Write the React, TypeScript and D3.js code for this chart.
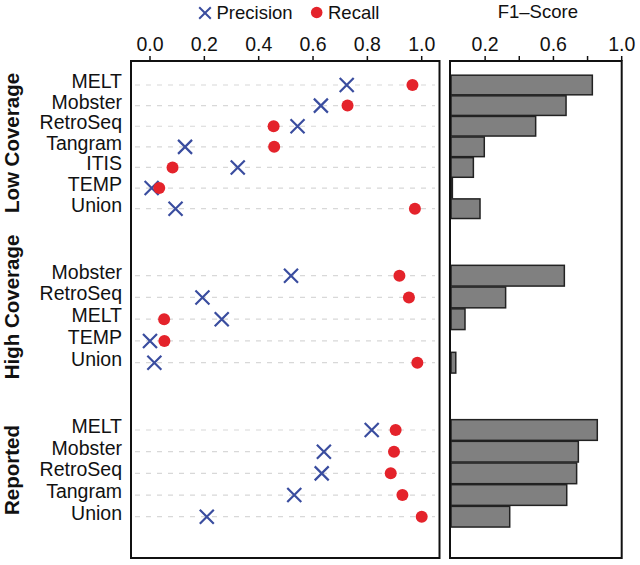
import * as d3 from 'd3';

const groups = ['Low Coverage', 'High Coverage', 'Reported'];

const lowTools = ['MELT', 'Mobster', 'RetroSeq', 'Tangram', 'ITIS', 'TEMP', 'Union'];
const lowPrecision = [0.724, 0.629, 0.543, 0.129, 0.323, 0.006, 0.094];
const lowRecall = [0.966, 0.727, 0.455, 0.457, 0.083, 0.034, 0.975];
const lowF1 = [0.828, 0.674, 0.496, 0.195, 0.131, 0.008, 0.17];

const highTools = ['Mobster', 'RetroSeq', 'MELT', 'TEMP', 'Union'];
const highPrecision = [0.519, 0.193, 0.264, 0.0, 0.016];
const highRecall = [0.918, 0.953, 0.052, 0.053, 0.984];
const highF1 = [0.664, 0.32, 0.082, 0, 0.028];

const repTools = ['MELT', 'Mobster', 'RetroSeq', 'Tangram', 'Union'];
const repPrecision = [0.816, 0.64, 0.632, 0.531, 0.209];
const repRecall = [0.904, 0.898, 0.886, 0.929, 1.0];
const repF1 = [0.857, 0.746, 0.736, 0.678, 0.344];

const pointTicks = [0, 0.2, 0.4, 0.6, 0.8, 1.0];
const f1Ticks = [0.2, 0.4, 0.6, 0.8, 1.0];
const f1Labels = [0.2, 0.6, 1.0];

const BLUE = '#3a4d9f';
const RED = '#e4232b';
const FONT = '"Liberation Sans", Arial, sans-serif';

// layout
const top = 61;
const bottom = 558;
const left1 = 131;
const right1 = 439.5;
const left2 = 450;
const right2 = 621.7;

const groupRanges: [number, number][] = [
  [85, 208.7],
  [275.7, 362.7],
  [430, 516.7],
];
const groupLabelY = [143, 307, 470];

const groupData = [
  { tools: lowTools, precision: lowPrecision, recall: lowRecall, f1: lowF1 },
  { tools: highTools, precision: highPrecision, recall: highRecall, f1: highF1 },
  { tools: repTools, precision: repPrecision, recall: repRecall, f1: repF1 },
];

export default function App() {
  const x = d3.scaleLinear().domain([0, 1]).range([150, 421.7]);
  const xf = d3.scaleLinear().domain([0, 1]).range([left2 + 1, right2]);
  const cross = (s: number) => `M${-s},${-s}L${s},${s}M${-s},${s}L${s},${-s}`;

  return (
    <svg
      width={640}
      height={565}
      style={{ position: 'absolute', left: 0, top: 0, background: '#fff' }}
      fontFamily={FONT}
    >
      {/* legend */}
      <path d={cross(5.8)} transform="translate(205,13)" stroke={BLUE} strokeWidth={2} fill="none" />
      <text x={216.5} y={18.5} fontSize={18.5} fill="#111">Precision</text>
      <circle cx={316.7} cy={12.5} r={5.8} fill={RED} />
      <text x={328} y={18.5} fontSize={18.5} fill="#111">Recall</text>
      <text x={(left2 + right2) / 2 + 2} y={18} fontSize={18.5} textAnchor="middle" fill="#111">
        F1–Score
      </text>

      {/* top axes */}
      {pointTicks.map((t) => (
        <g key={'pt' + t}>
          <line x1={x(t)} x2={x(t)} y1={top} y2={top - 5} stroke="#111" strokeWidth={1.5} />
          <text x={x(t)} y={51} fontSize={19.5} textAnchor="middle" fill="#111">
            {d3.format('.1f')(t)}
          </text>
        </g>
      ))}
      {f1Ticks.map((t) => (
        <line key={'ft' + t} x1={xf(t)} x2={xf(t)} y1={top} y2={top - 5} stroke="#111" strokeWidth={1.5} />
      ))}
      {f1Labels.map((t) => (
        <text key={'fl' + t} x={xf(t)} y={51} fontSize={19.5} textAnchor="middle" fill="#111">
          {d3.format('.1f')(t)}
        </text>
      ))}

      {groupData.map((g, gi) => {
        const y = d3.scalePoint<string>().domain(g.tools.map((d, i) => i + '')).range(groupRanges[gi]);
        const step = y.step();
        return (
          <g key={groups[gi]}>
            <text
              transform={`translate(19,${groupLabelY[gi]}) rotate(-90)`}
              textAnchor="middle"
              fontSize={20.5}
              fontWeight="bold"
              fill="#111"
            >
              {groups[gi]}
            </text>
            {g.tools.map((t, i) => {
              const yy = y(i + '') as number;
              return (
                <g key={t + i}>
                  <text x={122} y={yy + 3} fontSize={19.5} textAnchor="end" fill="#111">
                    {t}
                  </text>
                  <line
                    x1={135}
                    x2={435}
                    y1={yy}
                    y2={yy}
                    stroke="#d8d8d8"
                    strokeWidth={1.2}
                    strokeDasharray="5,6"
                  />
                  {g.f1[i] > 0 && (
                    <rect
                      x={xf(0)}
                      y={yy - step / 2 + 0.5}
                      width={xf(g.f1[i]) - xf(0)}
                      height={step - 1}
                      fill="#808080"
                      stroke="#222"
                      strokeWidth={1.5}
                    />
                  )}
                </g>
              );
            })}
            {g.tools.map((t, i) => (
              <path
                key={'p' + t + i}
                d={cross(7)}
                transform={`translate(${x(g.precision[i])},${y(i + '')})`}
                stroke={BLUE}
                strokeWidth={2.2}
                fill="none"
              />
            ))}
            {g.tools.map((t, i) => (
              <circle key={'r' + t + i} cx={x(g.recall[i])} cy={y(i + '')} r={6} fill={RED} />
            ))}
          </g>
        );
      })}

      {/* frames */}
      <rect x={left1} y={top} width={right1 - left1} height={bottom - top} fill="none" stroke="#111" strokeWidth={2} />
      <rect x={left2} y={top} width={right2 - left2} height={bottom - top} fill="none" stroke="#111" strokeWidth={2} />
    </svg>
  );
}
